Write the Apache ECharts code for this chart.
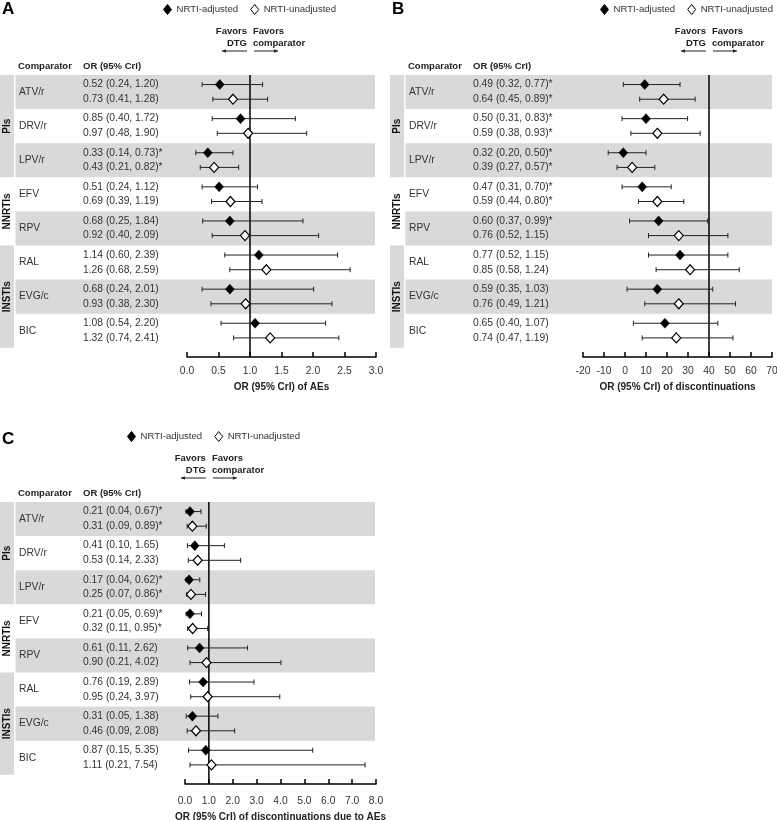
<!DOCTYPE html>
<html>
<head>
<meta charset="utf-8">
<script src="https://cdn.jsdelivr.net/npm/echarts@6/dist/echarts.min.js"></script>
<style>
  html, body { margin: 0; padding: 0; background: #fff; }
  #chart { width: 777px; height: 820px; }
</style>
</head>
<body>
<div id="chart"></div>
<script>
// rows shared by the three panels
const comparators = ['ATV/r', 'DRV/r', 'LPV/r', 'EFV', 'RPV', 'RAL', 'EVG/c', 'BIC'];
const classNames = ['PIs', 'NNRTIs', 'INSTIs'];
const classSizes = [3, 2, 3];
const seriesNames = ['NRTI-adjusted', 'NRTI-unadjusted'];

// [OR, lower, upper]
const aeAdjusted = [[0.52, 0.24, 1.20], [0.85, 0.40, 1.72], [0.33, 0.14, 0.73], [0.51, 0.24, 1.12],
  [0.68, 0.25, 1.84], [1.14, 0.60, 2.39], [0.68, 0.24, 2.01], [1.08, 0.54, 2.20]];
const aeUnadjusted = [[0.73, 0.41, 1.28], [0.97, 0.48, 1.90], [0.43, 0.21, 0.82], [0.69, 0.39, 1.19],
  [0.92, 0.40, 2.09], [1.26, 0.68, 2.59], [0.93, 0.38, 2.30], [1.32, 0.74, 2.41]];
const discAdjusted = [[0.49, 0.32, 0.77], [0.50, 0.31, 0.83], [0.32, 0.20, 0.50], [0.47, 0.31, 0.70],
  [0.60, 0.37, 0.99], [0.77, 0.52, 1.15], [0.59, 0.35, 1.03], [0.65, 0.40, 1.07]];
const discUnadjusted = [[0.64, 0.45, 0.89], [0.59, 0.38, 0.93], [0.39, 0.27, 0.57], [0.59, 0.44, 0.80],
  [0.76, 0.52, 1.15], [0.85, 0.58, 1.24], [0.76, 0.49, 1.21], [0.74, 0.47, 1.19]];
const discAeAdjusted = [[0.21, 0.04, 0.67], [0.41, 0.10, 1.65], [0.17, 0.04, 0.62], [0.21, 0.05, 0.69],
  [0.61, 0.11, 2.62], [0.76, 0.19, 2.89], [0.31, 0.05, 1.38], [0.87, 0.15, 5.35]];
const discAeUnadjusted = [[0.31, 0.09, 0.89], [0.53, 0.14, 2.33], [0.25, 0.07, 0.86], [0.32, 0.11, 0.95],
  [0.90, 0.21, 4.02], [0.95, 0.24, 3.97], [0.46, 0.09, 2.08], [1.11, 0.21, 7.54]];

// tick labels as printed under each axis
const aeTicks = ['0.0', '0.5', '1.0', '1.5', '2.0', '2.5', '3.0'];
const discTicks = ['-20', '-10', '0', '10', '20', '30', '40', '50', '60', '70'];
const discAeTicks = ['0.0', '1.0', '2.0', '3.0', '4.0', '5.0', '6.0', '7.0', '8.0'];

const FONT = 'Liberation Sans, Arial, Helvetica, sans-serif';
const SHADE = '#d9d9d9';
const ROW_POS = [0.28, 0.71];   // two rows inside each comparator block
const Y_MAX = 8.27;             // 8 blocks + gap above the axis

const panels = [
  { letter: 'A', top: 0, left: 0, width: 375, plotLeft: 187, plotWidth: 189, max: 3, interval: 0.5,
    ticks: aeTicks, title: 'OR (95% CrI) of AEs', adj: aeAdjusted, unadj: aeUnadjusted,
    legend: { left: 163 }, letterY: 9, labelMargin: 9, nameGap: 25 },
  { letter: 'B', top: 0, left: 390, width: 382, plotLeft: 583, plotWidth: 189, max: 1.5, interval: 1 / 6,
    ticks: discTicks, title: 'OR (95% CrI) of discontinuations', adj: discAdjusted, unadj: discUnadjusted,
    legend: { right: 4 }, letterY: 9, labelMargin: 9, nameGap: 25 },
  { letter: 'C', top: 427, left: 0, width: 375, plotLeft: 185, plotWidth: 191, max: 8, interval: 1,
    ticks: discAeTicks, title: 'OR (95% CrI) of discontinuations due to AEs', adj: discAeAdjusted, unadj: discAeUnadjusted,
    legend: { left: 127 }, letterY: 439, labelMargin: 12, nameGap: 28 }
];

function fmt(r) {
  return r[0].toFixed(2) + ' (' + r[1].toFixed(2) + ', ' + r[2].toFixed(2) + ')' + (r[2] < 1 ? '*' : '');
}

function txt(text, x, y, opts) {
  opts = opts || {};
  return {
    type: 'text', x: x, y: y, rotation: opts.rotation || 0, silent: true, z: 10,
    style: {
      text: text, fill: opts.color || '#333', fontSize: opts.size || 10.3,
      fontWeight: opts.bold ? 'bold' : 'normal', fontFamily: FONT,
      align: opts.align || 'left', verticalAlign: 'middle'
    }
  };
}

const chart = echarts.init(document.getElementById('chart'));

const grids = [], xAxes = [], yAxes = [], series = [];

panels.forEach(function (p, k) {
  const tg = 2 * k, pg = 2 * k + 1;
  grids.push({ left: p.left, top: p.top + 75, width: p.width, height: 282, outerBoundsMode: 'none' });
  grids.push({ left: p.plotLeft, top: p.top + 75, width: p.plotWidth, height: 282, outerBoundsMode: 'none' });

  xAxes.push({ gridIndex: tg, type: 'value', min: 0, max: 1, show: false });
  xAxes.push({
    gridIndex: pg, type: 'value', min: 0, max: p.max, interval: p.interval,
    axisLine: { show: true, onZero: false, lineStyle: { color: '#000', width: 1.5 } },
    axisTick: { show: true, inside: true, length: 5, lineStyle: { color: '#000', width: 1.5 } },
    axisLabel: {
      margin: p.labelMargin, fontSize: 10.3, color: '#333', fontFamily: FONT, showMinLabel: true, showMaxLabel: true,
      formatter: function (v) { return p.ticks[Math.round(v / p.interval)]; }
    },
    splitLine: { show: false },
    name: p.title, nameLocation: 'middle', nameGap: p.nameGap,
    nameTextStyle: { fontWeight: 'bold', fontSize: 10, color: '#222', fontFamily: FONT }
  });
  [tg, pg].forEach(function (g) {
    yAxes.push({ gridIndex: g, type: 'value', inverse: true, min: 0, max: Y_MAX, show: false });
  });

  // class column (PIs / NNRTIs / INSTIs)
  let start = 0;
  const spans = classSizes.map(function (n) { const s = [start, start + n]; start += n; return s; });
  series.push({
    type: 'custom', xAxisIndex: tg, yAxisIndex: tg, z: 1, silent: true,
    data: spans.map(function (s) { return [0, s[0], s[1]]; }),
    renderItem: function (params, api) {
      const cs = params.coordSys;
      const y0 = api.coord([0, api.value(1)])[1];
      const y1 = api.coord([0, api.value(2)])[1];
      const ch = [];
      if (params.dataIndex % 2 === 0) {
        ch.push({ type: 'rect', shape: { x: cs.x, y: y0, width: 14, height: y1 - y0 }, style: { fill: SHADE } });
      }
      ch.push(txt(classNames[params.dataIndex], cs.x + 7.5, (y0 + y1) / 2,
        { bold: true, size: 10, align: 'center', rotation: Math.PI / 2, color: '#111' }));
      return { type: 'group', children: ch };
    }
  });

  // comparator bands and OR text
  series.push({
    type: 'custom', xAxisIndex: tg, yAxisIndex: tg, z: 1, silent: true,
    data: comparators.map(function (c, i) { return [0, i]; }),
    renderItem: function (params, api) {
      const i = params.dataIndex;
      const cs = params.coordSys;
      const y0 = api.coord([0, i])[1];
      const y1 = api.coord([0, i + 1])[1];
      const ch = [];
      if (i % 2 === 0) {
        ch.push({ type: 'rect', shape: { x: cs.x + 15.5, y: y0, width: cs.width - 15.5, height: y1 - y0 }, style: { fill: SHADE } });
      }
      ch.push(txt(comparators[i], cs.x + 19, (y0 + y1) / 2));
      [p.adj, p.unadj].forEach(function (rows, j) {
        ch.push(txt(fmt(rows[i]), cs.x + 83, api.coord([0, i + ROW_POS[j]])[1]));
      });
      return { type: 'group', children: ch };
    }
  });

  // reference line at OR = 1
  series.push({
    type: 'line', xAxisIndex: pg, yAxisIndex: pg, z: 2, silent: true, symbol: 'none',
    data: [[1, 0], [1, Y_MAX]], lineStyle: { color: '#000', width: 1.5 }
  });

  // credible interval whiskers
  const bars = [];
  [p.adj, p.unadj].forEach(function (rows, j) {
    rows.forEach(function (r, i) { bars.push([r[1], r[2], i + ROW_POS[j]]); });
  });
  series.push({
    type: 'custom', xAxisIndex: pg, yAxisIndex: pg, z: 3, silent: true,
    encode: { x: [0, 1], y: 2 },
    data: bars,
    renderItem: function (params, api) {
      const a = api.coord([api.value(0), api.value(2)]);
      const b = api.coord([api.value(1), api.value(2)]);
      const st = { stroke: '#222', lineWidth: 1 };
      return {
        type: 'group', children: [
          { type: 'line', shape: { x1: a[0], y1: a[1], x2: b[0], y2: b[1] }, style: st },
          { type: 'line', shape: { x1: a[0], y1: a[1] - 2.5, x2: a[0], y2: a[1] + 2.5 }, style: st },
          { type: 'line', shape: { x1: b[0], y1: b[1] - 2.5, x2: b[0], y2: b[1] + 2.5 }, style: st }
        ]
      };
    }
  });

  // point estimates
  [p.adj, p.unadj].forEach(function (rows, j) {
    series.push({
      name: seriesNames[j], type: 'scatter', xAxisIndex: pg, yAxisIndex: pg, z: 4, silent: true,
      symbol: 'diamond', symbolSize: [9, 10],
      itemStyle: { color: j === 0 ? '#000' : '#fff', borderColor: '#000', borderWidth: j === 0 ? 0.5 : 1.2, opacity: 1 },
      data: rows.map(function (r, i) { return [r[0], i + ROW_POS[j]]; })
    });
  });
});

chart.setOption({
  animation: false,
  textStyle: { fontFamily: FONT },
  grid: grids,
  xAxis: xAxes,
  yAxis: yAxes,
  legend: panels.map(function (p) {
    return Object.assign({
      top: p.top + 4, padding: 0, itemWidth: 8, itemHeight: 10, itemGap: 12,
      icon: 'diamond', selectedMode: false,
      itemStyle: { borderWidth: 1 },
      textStyle: { fontSize: 9.6, color: '#333', fontFamily: FONT },
      data: seriesNames
    }, p.legend);
  }),
  series: series
});

// labels, headers and "favors" arrows placed around the OR = 1 line
function arrow(x1, x2, y) {
  const dir = x2 > x1 ? 1 : -1;
  return [
    { type: 'line', shape: { x1: x1, y1: y, x2: x2, y2: y }, style: { stroke: '#222', lineWidth: 1 }, silent: true },
    { type: 'polygon', shape: { points: [[x2, y], [x2 - dir * 4, y - 1.8], [x2 - dir * 4, y + 1.8]] }, style: { fill: '#222' }, silent: true }
  ];
}

const graphics = [];
panels.forEach(function (p, k) {
  const refX = chart.convertToPixel({ xAxisIndex: 2 * k + 1 }, 1);
  const T = p.top;
  graphics.push(txt(p.letter, p.left + 2, p.letterY, { bold: true, size: 17, color: '#000' }));
  graphics.push(txt('Comparator', p.left + 18, T + 66, { bold: true, size: 9.5, color: '#222' }));
  graphics.push(txt('OR (95% CrI)', p.left + 83, T + 66, { bold: true, size: 9.5, color: '#222' }));
  graphics.push(txt('Favors', refX - 3, T + 31, { bold: true, size: 9.5, color: '#222', align: 'right' }));
  graphics.push(txt('DTG', refX - 3, T + 43, { bold: true, size: 9.5, color: '#222', align: 'right' }));
  graphics.push(txt('Favors', refX + 3, T + 31, { bold: true, size: 9.5, color: '#222' }));
  graphics.push(txt('comparator', refX + 3, T + 43, { bold: true, size: 9.5, color: '#222' }));
  arrow(refX - 3, refX - 28, T + 51).forEach(function (g) { graphics.push(g); });
  arrow(refX + 4, refX + 28, T + 51).forEach(function (g) { graphics.push(g); });
});
chart.setOption({ graphic: graphics });
</script>
</body>
</html>
